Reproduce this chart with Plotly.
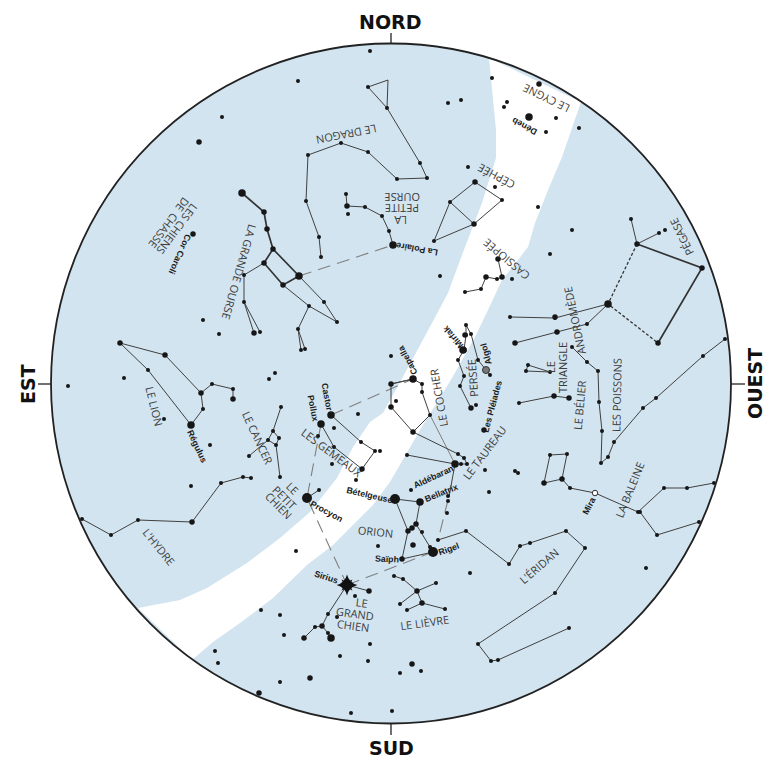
import plotly.graph_objects as go

# ---- Sky disk and Milky Way outline (chart units) ----
SKY_CENTER = (391, 383.5)
SKY_RADIUS = 340
MILKY_UPPER = [(489,58),(492,87),(496,130),(496,158),(482,203),(465,247),(448,293),(432,323),(423,340),
               (405,373),(383,413),(370,422),(353,447),(337,478),(310,512),(280,538),(247,563),(207,588),(180,600),(138,608)]
MILKY_LOWER = [(192,660),(213,642),(240,623),(273,598),(307,565),(333,545),(360,518),(373,505),(390,482),
               (420,430),(452,378),(475,337),(488,310),(502,280),(518,260),(528,247),(535,223),(548,190),(562,157),(572,127),(581,102)]

# ---- Constellation figures ----
BIG_DIPPER = [[(242,193),(264,212),(267,229),(273,249),(299,276),(283,285),(264,263),(273,249)]]
GRANDE_OURSE = [[(264,263),(244,275),(244,302),(254,333)],[(244,302),(260,332)],
                [(283,285),(309,306),(337,322),(324,302),(299,276)],
                [(309,306),(298,329),(301,350)],[(298,329),(305,349)]]
DRAGON = [[(368,87),(388,80),(387,108),(420,163),(427,178),(397,179),(368,152),(341,143),(308,155),(306,201),(319,237),(321,257)],
          [(368,87),(387,108)]]
PETITE_OURSE = [[(346,194),(347,206),(365,207),(382,216),(389,231),(393,245)]]
CEPHEE = [[(475,182),(502,200),(474,224),(450,202),(475,182)],[(450,202),(434,241),(474,224)]]
CASSIOPEE = [[(498,259),(502,277),(497,279),(486,277),(481,289),(465,292)]]
PEGASE_THICK = [[(637,244),(702,268),(658,343)]]
PEGASE = [[(631,219),(637,244),(659,233)]]
PEGASE_DOTTED = [[(637,244),(608,304),(658,343)]]
ANDROMEDE = [[(608,304),(555,318),(510,317)],[(608,304),(587,324),(557,332),(515,343)]]
POISSONS = [[(572,347),(587,362),(598,371),(599,402),(602,431),(601,463),(608,457),(614,442),(643,408),(656,398),(703,356),(725,339)]]
TRIANGLE = [[(528,365),(526,371),(550,372),(528,365)]]
BELIER = [[(519,403),(554,396),(569,398)]]
PERSEE = [[(466,325),(466,335),(464,350),(458,360),(464,376),(460,386),(471,408)],[(466,325),(471,334),(478,360),(486,370),(490,375)]]
COCHER = [[(413,379),(391,384),(391,407),(413,432),(430,415),(422,392),(422,384),(413,379)],[(391,384),(413,379)]]
TAUREAU = [[(413,432),(458,454),(464,458),(467,464),(461,464),(455,464),(407,455)],[(455,464),(449,497)]]
COCHER_GRAY = [[(430,415),(455,464)]]
ORION = [[(395,499),(420,502),(416,524),(433,552),(402,559),(408,531),(395,499)],[(416,524),(412,528),(408,531)]]
ERIDAN = [[(438,540),(466,531),(509,564),(520,546),(530,543),(566,531),(585,548),(555,593),(478,644),(491,661),(498,660),(569,628)]]
BALEINE = [[(544,483),(550,455),(567,454),(562,479),(544,483)],
           [(562,479),(570,488),(595,493),(638,512),(664,488),(687,488),(714,483)],[(640,512),(657,535),(699,522)]]
LIEVRE = [[(394,576),(403,579),(417,591),(436,583)],[(417,591),(400,604)],[(417,591),(422,603)],[(407,610),(422,603),(445,609)]]
GRAND_CHIEN = [[(347,585),(369,591)],[(347,585),(328,614),(322,626),(315,627),(304,638)],[(322,626),(328,633),(331,638)]]
PETIT_CHIEN = [[(307,498),(319,490)]]
GEMEAUX = [[(331,415),(361,442),(375,451),(362,469),(334,447),(321,424)]]
CANCER = [[(281,407),(273,431),(279,438),(276,445),(268,440),(273,431)],[(276,445),(280,477)],[(268,440),(249,456)]]
LION = [[(120,343),(165,355),(201,393),(212,384),(233,389),(233,399)],[(201,393),(203,409),(191,425),(148,370),(120,343)]]
HYDRE = [[(82,519),(111,535),(138,520),(192,522),(221,483),(243,477),(251,478)]]
GUIDE_LINES = [[(299,276),(393,245)],[(331,415),(413,379)],[(321,424),(307,498),(347,585)],[(347,585),(433,552)],[(448,500),(438,540)]]

# ---- Stars by brightness class ----
STARS_FAINT = [(370,51),(298,81),(222,117),(203,320),(219,334),(124,378),(68,386),(164,419),(210,445),(191,486),(269,379),(275,373),
    (448,103),(461,100),(492,78),(507,102),(504,107),(556,118),(546,132),(579,128),(468,167),(495,187),(538,207),(572,230),(550,254),(440,276),
    (368,87),(387,108),(420,163),(427,178),(397,179),(368,152),(341,143),(308,155),(306,201),(319,237),(321,257),
    (348,214),(365,207),(382,216),(389,231),(346,194),
    (244,275),(244,302),(260,332),(309,306),(337,322),(324,302),(298,329),(301,350),(305,349),
    (450,202),(502,200),(434,241),(497,279),(465,292),(481,289),(512,279),
    (631,219),(659,233),(665,230),(510,317),(555,318),(587,324),(572,347),(587,362),(598,371),(599,402),(602,431),(601,463),(608,457),(614,442),(643,408),(656,398),(703,356),(725,339),
    (528,365),(526,371),(550,372),(519,403),
    (466,325),(466,335),(471,334),(458,360),(464,376),(460,386),(476,405),(478,360),(490,375),(391,356),
    (422,384),(422,392),(430,415),(396,401),(407,455),(458,454),(464,458),(467,464),(461,464),(411,490),(485,470),(489,492),
    (448,496),(448,501),(447,513),(438,540),(422,532),(430,547),(378,546),(466,531),(509,564),(520,546),(530,543),(566,531),(585,548),(555,593),(478,644),(491,661),(498,660),(569,628),
    (550,455),(567,454),(570,488),(638,512),(640,512),(664,488),(687,488),(714,483),(657,535),(699,522),(515,471),(518,473),(646,568),(470,573),
    (394,576),(403,579),(436,583),(400,604),(407,610),(445,609),(421,671),(400,673),(392,711),
    (355,596),(328,614),(315,627),(328,633),(337,617),(261,610),(280,615),(284,635),(215,651),(218,663),(280,682),(340,656),(370,644),(368,661),(351,713),
    (319,490),(361,442),(375,451),(380,451),(334,447),(318,436),(334,428),(332,464),(356,480),(358,414),(296,551),
    (281,407),(273,431),(268,440),(279,438),(276,445),(280,477),(249,456),
    (148,370),(203,409),(212,384),(233,389),(82,519),(111,535),(138,520),(221,483),(243,477),(251,478)]
STARS_MEDIUM = [(199,142),(539,84),(193,234),(273,249),(264,263),(283,285),(347,206),(475,182),(474,224),(486,277),(498,259),(502,277),
    (637,244),(702,268),(658,343),(555,317),(557,332),(515,343),(554,396),(569,398),(465,335),(471,408),(484,430),(464,350),
    (391,384),(391,407),(413,432),(412,528),(408,531),(416,524),(402,559),(413,545),(544,483),(562,479),
    (417,591),(422,603),(412,664),(369,591),(322,626),(304,638),(310,678),(259,693),(362,469),(165,355),(120,343),(192,522),(201,393),(233,399),(264,212),(267,229),(254,333)]
STARS_LARGE = [(242,193),(299,276),(393,245),(529,117),(608,304),(463,350),(413,379),(331,415),(321,424),(455,464),(420,502),(331,638),(191,425)]
STARS_BRIGHT = [(307,498),(395,499),(433,552)]
STAR_ALGOL = [(486,370)]
STAR_MIRA = [(595,493)]
STAR_SIRIUS = [(347,585)]

# ---- Text ----
CARDINALS = [("NORD",390,22,0),("SUD",391,748,0),("EST",28,384,-90),("OUEST",755,384,-90)]
CONSTELLATION_LABELS = [("LE DRAGON",347,135,169),("LES CHIENS",178,229,127),("DE",183,205,127),("CHASSE",164,231,127),
    ("LA GRANDE OURSE",240,272,106),("LA",401,221,180),("PETITE",402,209,180),("OURSE",402,198,180),
    ("LE CYGNE",546,99,-154),("CÉPHÉE",496,177,-152),("CASSIOPÉE",506,260,-140),
    ("PÉGASE",681,237,-116),("ANDROMÈDE",574,321,-102),("LE",550,367,-90),("TRIANGLE",562,368,-90),("LE BÉLIER",579,405,-85),
    ("LES POISSONS",616,395,-89),("LA BALEINE",629,490,-68),("L'ÉRIDAN",538,566,-41),("LE LIÈVRE",424,622,-8),
    ("LE TAUREAU",484,452,-53),("PERSÉE",472,378,-94),("LE COCHER",438,398,-100),("LES GÉMEAUX",332,452,37),
    ("LE CANCER",258,437,65),("LE LION",155,406,76),("LE",293,488,45),("PETIT",285,497,45),("CHIEN",279,505,45),("L'HYDRE",159,546,51),
    ("ORION",375,531,6),("LE",362,602,8),("GRAND",355,613,8),("CHIEN",353,625,8)]
STAR_LABELS = [("Cor Caroli",180,254,114),("La Polaire",417,249,-170),("Déneb",524,126,-152),("Mirfak",453,337,-130),("Capella",408,361,-118),
    ("Algol",486,354,-105),("Les Pléiades",492,407,-75),("Mira",589,506,-62),("Castor",327,397,79),("Pollux",313,408,79),
    ("Régulus",197,446,65),("Procyon",326,511,28),("Bételgeuse",369,495,13),("Bellatrix",441,493,-22),("Aldébaran",433,477,-25),
    ("Saïph",387,559,2),("Rigel",449,549,-20),("Sirius",326,577,18)]
TICKS = [[(391,33),(391,44)],[(391,723),(391,735)],[(38,384),(51,384)],[(731,384),(745,384)]]

INK = "#404040"
fig = go.Figure()

def draw(groups, width=1.0, color=INK, dash="solid"):
    for poly in groups:
        fig.add_trace(go.Scatter(x=[p[0] for p in poly], y=[p[1] for p in poly], mode="lines",
                                 line=dict(color=color, width=width, dash=dash), hoverinfo="skip", showlegend=False))

def dots(points, size, color="#161616", symbol="circle", line=None, angle=0):
    fig.add_trace(go.Scatter(x=[p[0] for p in points], y=[p[1] for p in points], mode="markers",
                             marker=dict(size=size, color=color, symbol=symbol, angle=angle, line=line or dict(width=0)),
                             hoverinfo="skip", showlegend=False))

cx, cy = SKY_CENTER
r = SKY_RADIUS
fig.add_shape(type="circle", x0=cx-r, x1=cx+r, y0=cy-r, y1=cy+r, fillcolor="#d2e4f0", line=dict(width=0), layer="below")
band = MILKY_UPPER + MILKY_LOWER
fig.add_trace(go.Scatter(x=[p[0] for p in band]+[band[0][0]], y=[p[1] for p in band]+[band[0][1]], mode="lines", fill="toself",
                         fillcolor="white", line=dict(width=0), hoverinfo="skip", showlegend=False))
fig.add_shape(type="circle", x0=cx-r, x1=cx+r, y0=cy-r, y1=cy+r, line=dict(color="#222222", width=1.8), layer="above")
draw(TICKS, 1.3, "#222222")

draw(GUIDE_LINES, 1.1, "#808080", "13px,7px")
draw(COCHER_GRAY, 1.0, "#808080")
draw(BIG_DIPPER + PEGASE_THICK, 1.7, "#333333")
for g in (GRANDE_OURSE, DRAGON, PETITE_OURSE, CEPHEE, CASSIOPEE, PEGASE, ANDROMEDE, POISSONS, TRIANGLE, BELIER, PERSEE,
          COCHER, TAUREAU, ORION, ERIDAN, BALEINE, LIEVRE, GRAND_CHIEN, PETIT_CHIEN, GEMEAUX, CANCER, LION, HYDRE):
    draw(g)
draw(PEGASE_DOTTED, 1.3, "#333333", "3px,2px")

dots(STARS_FAINT, 4)
dots(STARS_MEDIUM, 5.5)
dots(STARS_LARGE, 7.5)
dots(STARS_BRIGHT, 10)
dots(STAR_ALGOL, 7, "#777777", line=dict(color="#333333", width=1))
dots(STAR_MIRA, 5.5, "#ffffff", line=dict(color="#333333", width=1))
dots(STAR_SIRIUS, 15, "#111111", "star-diamond")
dots(STAR_SIRIUS, 11, "#111111", "star-diamond", angle=45)

def labels(items, font, size, color, bold=False):
    for text, x, y, ang in items:
        shown = "<b>" + text + "</b>" if bold else text
        fig.add_annotation(x=x, y=y, text=shown, textangle=ang, showarrow=False, xanchor="center", yanchor="middle",
                           font=dict(family=font, size=size, color=color))

labels(CONSTELLATION_LABELS, "Open Sans", 11, "#3c3c3c")
labels(STAR_LABELS, "Liberation Sans", 8.8, "#1a1a1a", bold=True)
labels(CARDINALS, "DejaVu Sans", 19, "#111111", bold=True)

fig.update_layout(width=765, height=758, autosize=False, margin=dict(l=0, r=0, t=0, b=0),
                  paper_bgcolor="white", plot_bgcolor="white", showlegend=False,
                  xaxis=dict(range=[0,765], visible=False, fixedrange=True),
                  yaxis=dict(range=[758,0], visible=False, fixedrange=True))
fig.write_html("out.html", config=dict(displayModeBar=False),
               post_script="document.body.style.margin='0';document.documentElement.style.overflow='hidden';")
